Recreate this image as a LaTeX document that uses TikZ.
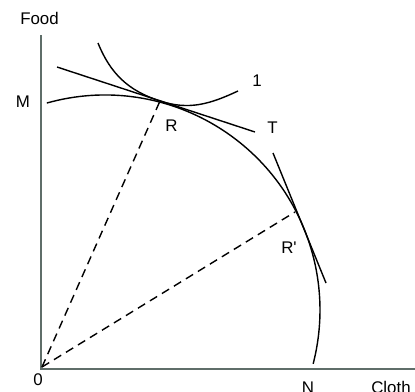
\documentclass[tikz,border=0pt]{standalone}
\usepackage{fontspec}
\setmainfont{Liberation Sans}
\begin{document}
\begin{tikzpicture}[x=0.025cm,y=0.025cm,
    axis/.style={line width=1.6pt,draw={rgb,255:red,95;green,110;blue,105}},
    curve/.style={line width=1pt,black},
    ray/.style={line width=1pt,dash pattern=on 6pt off 4pt},
    lbl/.style={inner sep=0pt,font=\fontsize{12}{14}\selectfont}]
    \useasboundingbox (0,0) rectangle (415,391);
    % Points
    \coordinate (O) at (42,24);
    \coordinate (R) at (160,290);
    \coordinate (R2) at (295,179);
    % Axes
    \draw[axis] (41,356) -- (41,22) -- (415,22);
    % Production possibility frontier
    \draw[curve] (105,81) ++(105.7:215) arc[start angle=105.7,end angle=-14.5,radius=215];
    % Indifference curve
    \draw[curve] (98,348) to[out=-68,in=162] (R) to[out=-18,in=205] (238,300);
    % Price lines
    \draw[curve] (57,324) -- (255,259);
    \draw[curve] (273,238) -- (326,108);
    % Rays from origin
    \draw[ray] (O) -- (R);
    \draw[ray] (O) -- (R2);
    % Labels
    \node[lbl] (food) at (39.5,373) {Food};
    \node[lbl] (m) at (23,289) {M};
    \node[lbl] (zero) at (38,11) {0};
    \node[lbl] (n) at (308,3) {N};
    \node[lbl] (cloth) at (391,3.5) {Cloth};
    \node[lbl] (r) at (171.5,265) {R};
    \node[lbl] (t) at (272.5,263) {T};
    \node[lbl] (one) at (257,310) {1};
    \node[lbl] (r2) at (289,143) {R\textquotesingle};
\end{tikzpicture}
\end{document}
